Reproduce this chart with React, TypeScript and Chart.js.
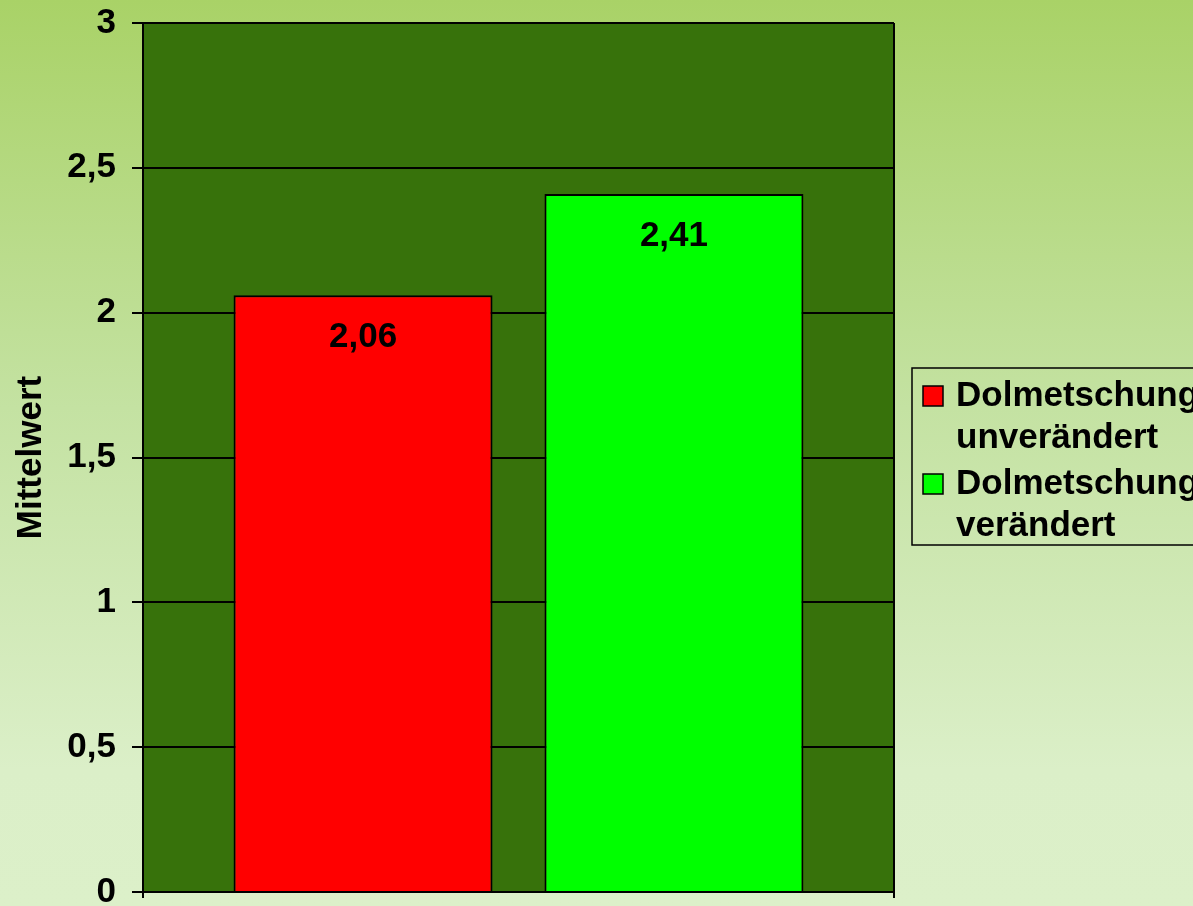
import { useEffect, useRef } from "react";
import { Chart, registerables } from "chart.js";

Chart.register(...registerables);

const categories = [""];
const seriesLabels = ["Dolmetschung unverändert", "Dolmetschung verändert"];
const legendLines = [
  ["Dolmetschung", "unverändert"],
  ["Dolmetschung", "verändert"],
];
const seriesValues = [2.06, 2.41];
const seriesColors = ["#ff0000", "#00ff00"];
const yTicks = [0, 0.5, 1, 1.5, 2, 2.5, 3];
const yTitle = "Mittelwert";

const FONT = "'Liberation Sans', Arial, sans-serif";
const FS = 35;
const fmt = (v: number, d?: number) =>
  (d === undefined ? String(v) : v.toFixed(d)).replace(".", ",");

const plotBg = {
  id: "plotBg",
  beforeDraw(chart: any) {
    const { ctx, chartArea: a } = chart;
    ctx.save();
    ctx.fillStyle = "#37720b";
    ctx.fillRect(a.left, a.top, a.right - a.left, a.bottom - a.top);
    ctx.restore();
  },
};

const valueLabels = {
  id: "valueLabels",
  afterDatasetsDraw(chart: any) {
    const { ctx } = chart;
    ctx.save();
    ctx.font = `bold ${FS}px ${FONT}`;
    ctx.fillStyle = "#000";
    ctx.textAlign = "center";
    ctx.textBaseline = "alphabetic";
    chart.data.datasets.forEach((ds: any, i: number) => {
      const meta = chart.getDatasetMeta(i);
      meta.data.forEach((bar: any, j: number) => {
        ctx.fillText(fmt(ds.data[j], 2), bar.x, bar.y + 52);
      });
    });
    ctx.restore();
  },
};

const customLegend = {
  id: "customLegend",
  afterDraw(chart: any) {
    const { ctx, chartArea: a } = chart;
    const left = a.right + 18;
    const height = 177;
    const top = Math.round((a.top + a.bottom) / 2 - height / 2) - 1;
    ctx.save();
    ctx.strokeStyle = "#000";
    ctx.lineWidth = 1.5;
    ctx.strokeRect(left, top, 400, height);
    ctx.font = `bold ${FS}px ${FONT}`;
    ctx.textAlign = "left";
    ctx.textBaseline = "alphabetic";
    let baseline = top + 38;
    chart.data.datasets.forEach((ds: any, i: number) => {
      const sq = 20;
      ctx.fillStyle = ds.backgroundColor;
      ctx.fillRect(left + 11, baseline - 20, sq, sq);
      ctx.strokeStyle = "#000";
      ctx.lineWidth = 1.5;
      ctx.strokeRect(left + 11, baseline - 20, sq, sq);
      ctx.fillStyle = "#000";
      legendLines[i].forEach((line, k) => {
        ctx.fillText(line, left + 44, baseline + k * 42);
      });
      baseline += legendLines[i].length * 42 + 4;
    });
    ctx.restore();
  },
};

export default function App() {
  const ref = useRef<HTMLCanvasElement>(null);

  useEffect(() => {
    if (!ref.current) return;
    const chart = new Chart(ref.current, {
      type: "bar",
      data: {
        labels: categories,
        datasets: seriesValues.map((v, i) => ({
          label: seriesLabels[i],
          data: [v],
          backgroundColor: seriesColors[i],
          borderColor: "#000",
          borderWidth: 2,
          borderSkipped: "bottom",
          categoryPercentage: 0.828,
          barPercentage: 0.833,
        })),
      },
      options: {
        responsive: false,
        animation: false,
        events: [],
        layout: { padding: { top: 23, right: 299, bottom: 0, left: 0 } },
        plugins: {
          legend: { display: false },
          tooltip: { enabled: false },
          title: { display: false },
        },
        scales: {
          x: {
            offset: true,
            grid: {
              offset: true,
              color: "#000",
              lineWidth: 2,
              tickLength: 6,
              drawOnChartArea: true,
            },
            border: { display: true, color: "#000", width: 2 },
            ticks: { display: false },
            afterFit: (s: any) => {
              s.height = 14;
            },
          },
          y: {
            min: 0,
            max: 3,
            afterBuildTicks: (s: any) => {
              s.ticks = yTicks.map((v) => ({ value: v }));
            },
            ticks: {
              color: "#000",
              padding: 16,
              font: { family: FONT, size: FS, weight: "bold" },
              callback: (v: any) => fmt(Number(v)),
            },
            grid: { color: "#000", lineWidth: 2, tickLength: 11 },
            border: { display: true, color: "#000", width: 2 },
            title: {
              display: true,
              text: yTitle,
              color: "#000",
              font: { family: FONT, size: FS, weight: "bold" },
              padding: { top: 10, bottom: 0 },
            },
            afterFit: (s: any) => {
              s.width = 143;
              s.paddingTop = 0;
              s.paddingBottom = 0;
            },
          },
        },
      },
      plugins: [plotBg, valueLabels, customLegend],
    });
    return () => chart.destroy();
  }, []);

  return (
    <div
      style={{
        position: "absolute",
        left: 0,
        top: 0,
        width: 1193,
        height: 906,
        overflow: "hidden",
        background: "linear-gradient(180deg, #a9d267 0%, #c4e2a2 45%, #dbefc8 85%, #dcf0c9 100%)",
      }}
    >
      <canvas ref={ref} width={1193} height={906} style={{ display: "block" }} />
    </div>
  );
}
